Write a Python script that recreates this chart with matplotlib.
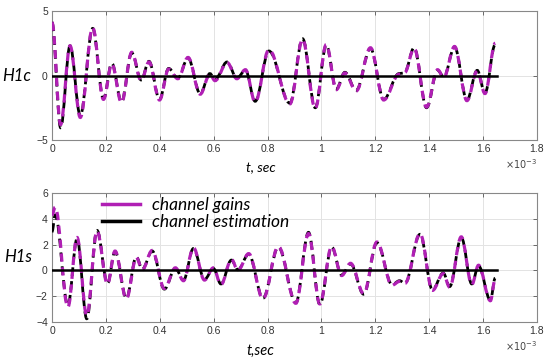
import matplotlib
matplotlib.use("Agg")
import matplotlib.pyplot as plt
from matplotlib.path import Path
from matplotlib.patches import PathPatch
from matplotlib.lines import Line2D

# ---- data (time in ms: successive extremes) ----
top_t_gain = [0.000, 0.032, 0.067, 0.105, 0.151, 0.191, 0.222, 0.258, 0.296, 0.331,
              0.360, 0.399, 0.433, 0.467, 0.505, 0.550, 0.586, 0.605, 0.650, 0.686,
              0.718, 0.754, 0.805, 0.883, 0.930, 0.977, 1.018, 1.055, 1.087, 1.129,
              1.182, 1.231, 1.288, 1.308, 1.344, 1.390, 1.431, 1.454, 1.494, 1.540,
              1.578, 1.607, 1.645]
top_v_gain = [4.1, -3.8, 2.3, -3.25, 3.7, -1.85, 0.9, -2.1, 1.8, -0.4,
              1.05, -1.9, 0.5, -0.25, 1.4, -1.45, 0.1, -0.4, 1.0, -0.25,
              0.45, -2.05, 2.0, -2.2, 2.8, -2.55, 2.4, -1.1, 0.2, -1.2,
              2.15, -1.9, 0.1, 0.2, 2.1, -2.45, 0.45, -0.15, 2.25, -1.95,
              0.35, -1.4, 2.5]
top_v_est = [4.1, -4.05, 2.3, -3.1, 3.65, -1.8, 0.95, -2.05, 1.75, -0.35,
             1.1, -1.85, 0.55, -0.2, 1.35, -1.4, 0.15, -0.3, 1.05, -0.2,
             0.4, -2.0, 1.9, -2.15, 2.85, -2.5, 2.35, -1.05, 0.25, -1.15,
             2.1, -1.85, 0.15, 0.2, 2.15, -2.5, 0.4, -0.1, 2.2, -1.9,
             0.4, -1.35, 2.4]

bot_t_gain = [0.000, 0.012, 0.059, 0.093, 0.129, 0.167, 0.206, 0.234, 0.276, 0.313,
              0.335, 0.372, 0.417, 0.458, 0.488, 0.525, 0.566, 0.599, 0.627, 0.666,
              0.690, 0.730, 0.783, 0.840, 0.905, 0.952, 0.994, 1.038, 1.075, 1.108,
              1.157, 1.206, 1.262, 1.290, 1.310, 1.366, 1.412, 1.452, 1.476, 1.519,
              1.558, 1.583, 1.627, 1.645]
bot_v_gain = [4.3, 4.9, -2.85, 2.55, -3.5, 3.05, -1.05, 1.5, -2.2, 1.0,
              0.05, 1.55, -1.4, 0.2, -0.8, 1.75, -0.75, 0.2, -1.1, 0.85,
              0.0, 1.3, -2.2, 1.85, -2.55, 2.85, -2.6, 1.85, -0.4, 0.55,
              -1.8, 2.2, -1.15, -0.85, -1.0, 2.85, -1.55, -0.25, -1.3, 2.6,
              -1.1, 0.4, -2.35, -0.65]
bot_v_est = [3.0, 4.3, -2.7, 2.45, -3.75, 3.1, -1.0, 1.45, -2.15, 1.05,
             0.1, 1.5, -1.45, 0.15, -0.75, 1.7, -0.7, 0.15, -1.05, 0.8,
             0.05, 1.25, -2.15, 1.8, -2.5, 2.95, -2.65, 1.8, -0.35, 0.5,
             -1.85, 2.15, -1.1, -0.8, -1.0, 2.8, -1.5, -0.2, -1.25, 2.55,
             -1.05, 0.35, -2.3, -0.6]

x_ticks = [0, 0.2, 0.4, 0.6, 0.8, 1.0, 1.2, 1.4, 1.6, 1.8]
x_ticklabels = ['0', '0.2', '0.4', '0.6', '0.8', '1', '1.2', '1.4', '1.6', '1.8']
top_yticks = [-5, 0, 5]
bot_yticks = [-4, -2, 0, 2, 4, 6]
t_end = 1.65

MAG = '#b01fb4'
plt.rcParams['lines.scale_dashes'] = False


def smooth_patch(t, v, **kw):
    """Draw a smooth curve through the extremes with cubic Bezier segments."""
    verts = [(t[0], v[0])]
    codes = [Path.MOVETO]
    for i in range(1, len(t)):
        d = t[i] - t[i - 1]
        verts += [(t[i - 1] + 0.364 * d, v[i - 1]), (t[i] - 0.364 * d, v[i]), (t[i], v[i])]
        codes += [Path.CURVE4] * 3
    return PathPatch(Path(verts, codes), fill=False, **kw)


fig = plt.figure(figsize=(5.5, 3.61), dpi=100)
ax1 = fig.add_axes([52 / 550, 1 - 140 / 361, 485 / 550, 129 / 361])
ax2 = fig.add_axes([52 / 550, 1 - 322 / 361, 485 / 550, 129 / 361])

ital = dict(family='Lato', style='italic')

for ax, tg, vg, ve, yt, ylab in [
        (ax1, top_t_gain, top_v_gain, top_v_est, top_yticks, 'H1c'),
        (ax2, bot_t_gain, bot_v_gain, bot_v_est, bot_yticks, 'H1s')]:
    ax.add_patch(smooth_patch(tg, ve, edgecolor='black', linewidth=2.0,
                              linestyle=(0, (6.3, 3.7)), zorder=3))
    ax.add_patch(smooth_patch(tg, vg, edgecolor=MAG, linewidth=2.3,
                              linestyle=(0, (6.0, 4.0)), zorder=4))
    ax.plot([0, t_end], [0, 0], color='black', lw=1.8, zorder=5)
    ax.set_xlim(0, 1.8)
    ax.set_ylim(yt[0], yt[-1])
    ax.set_xticks(x_ticks)
    ax.set_xticklabels(x_ticklabels)
    ax.set_yticks(yt)
    ax.grid(True, color='#e3e3e3', lw=0.7)
    ax.set_axisbelow(True)
    ax.tick_params(direction='in', top=True, right=True, length=3, width=0.6,
                   colors='#555555', labelcolor='#333333', labelsize=7.5, pad=3)
    for lbl in ax.get_xticklabels() + ax.get_yticklabels():
        lbl.set_family('Liberation Sans')
    for s in ax.spines.values():
        s.set_color('#888888')
        s.set_linewidth(0.8)
    ax.set_ylabel(ylab, rotation=0, fontsize=12, va='center', **ital)
    ax.yaxis.set_label_coords(-0.07, 0.5)
    ax.text(1.0, -0.13, r'$\times10^{-3}$', transform=ax.transAxes, ha='right',
            va='top', fontsize=7, color='#444444')

ax1.yaxis.set_label_coords(-0.072, 0.5)
ax1.set_xlabel('t, sec', fontsize=10, **ital)
ax1.xaxis.set_label_coords(0.43, -0.17)
ax2.set_xlabel('t,sec', fontsize=10.5, **ital)
ax2.xaxis.set_label_coords(0.43, -0.17)

handles = [Line2D([], [], color=MAG, lw=2.5), Line2D([], [], color='black', lw=2.5)]
leg = ax2.legend(handles, ['channel gains', 'channel estimation'], loc='upper left',
                 bbox_to_anchor=(0.07, 1.09), frameon=False, handlelength=2.2,
                 handletextpad=0.7, labelspacing=0.05,
                 prop=dict(family='Lato', style='italic', size=12.5))

fig.savefig('out.png', dpi=100)
